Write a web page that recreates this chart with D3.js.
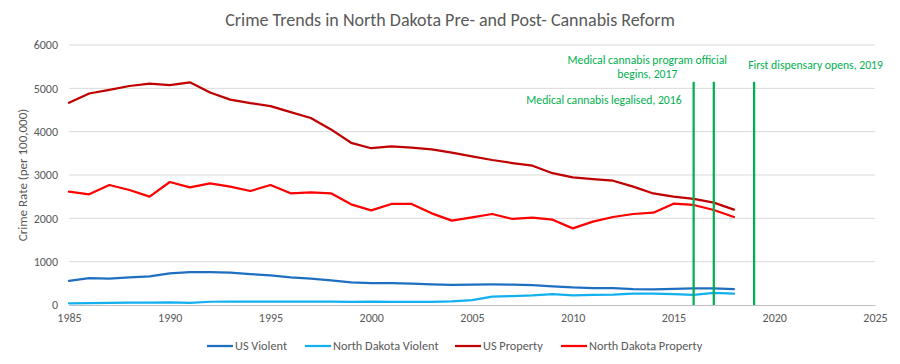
<!DOCTYPE html>
<html><head><meta charset="utf-8">
<script src="https://cdn.jsdelivr.net/npm/d3@7"></script>
<style>
html,body{margin:0;padding:0;background:#fff;}
svg text{font-family:Carlito, Lato, "Liberation Sans", sans-serif;}
</style></head>
<body><svg id="chart" width="900" height="364"></svg>
<script>
const years = d3.range(1985, 2019);
const usViolent = [556,620,610,637,663,732,758,758,747,714,685,637,611,568,523,507,504,494,476,463,469,474,472,458,432,404,387,387,369,362,373,386,383,369];
const ndViolent = [40,42,50,52,52,60,50,75,78,80,78,80,80,80,72,80,72,72,72,85,115,195,205,220,250,220,235,240,260,262,250,235,280,262];
const usProperty = [4666,4881,4963,5054,5107,5073,5140,4903,4740,4660,4591,4451,4316,4052,3743,3618,3658,3631,3591,3514,3432,3346,3276,3215,3041,2946,2905,2868,2733,2574,2500,2451,2362,2200];
const ndProperty = [2615,2554,2769,2654,2500,2838,2715,2808,2731,2631,2769,2577,2600,2577,2323,2185,2331,2331,2115,1946,2023,2100,1985,2015,1969,1769,1923,2031,2100,2131,2338,2308,2192,2031];
const seriesNames = ["US Violent","North Dakota Violent","US Property","North Dakota Property"];
const seriesColors = ["#1F6FC0","#12B0EE","#C00000","#FF0000"];
const xTicks = [1985,1990,1995,2000,2005,2010,2015,2020,2025];
const yTicks = [0,1000,2000,3000,4000,5000,6000];
const eventYears = [2016,2017,2019];
const eventTop = 5150;
const eventLabels = ["Medical cannabis legalised, 2016","Medical cannabis program official|begins, 2017","First dispensary opens, 2019"];
const titleText = "Crime Trends in North Dakota Pre- and Post- Cannabis Reform";
const yTitle = "Crime Rate (per 100,000)";

const svg = d3.select("#chart");
const m = {left:69, right:875, top:45, bottom:305};
const x = d3.scaleLinear().domain([1985,2025]).range([m.left, m.right]);
const y = d3.scaleLinear().domain([0,6000]).range([m.bottom, m.top]);
const grey = "#595959";

// gridlines
svg.append("g").selectAll("line").data(yTicks.filter(d=>d>0)).join("line")
  .attr("x1", m.left).attr("x2", m.right)
  .attr("y1", d=>y(d)).attr("y2", d=>y(d))
  .attr("stroke","#d9d9d9").attr("stroke-width",1);

// y axis
const yAxis = svg.append("g").attr("transform",`translate(${m.left},0)`)
  .call(d3.axisLeft(y).tickValues(yTicks).tickSize(0).tickPadding(11).tickFormat(d3.format("d")));
yAxis.select(".domain").remove();
yAxis.selectAll("text").attr("fill",grey).attr("font-size",12);

// x axis
const xAxis = svg.append("g").attr("transform",`translate(0,${m.bottom})`)
  .call(d3.axisBottom(x).tickValues(xTicks).tickSize(0).tickPadding(8).tickFormat(d3.format("d")));
xAxis.select(".domain").attr("stroke","#bfbfbf").attr("stroke-width",1.2);
xAxis.selectAll("text").attr("fill",grey).attr("font-size",12);

// series
const allSeries = [usViolent, ndViolent, usProperty, ndProperty];
const line = d3.line().x((d,i)=>x(years[i])).y(d=>y(d));
svg.append("g").selectAll("path").data(allSeries).join("path")
  .attr("d", d=>line(d)).attr("fill","none")
  .attr("stroke",(d,i)=>seriesColors[i]).attr("stroke-width",2.25)
  .attr("stroke-linejoin","round").attr("stroke-linecap","round");

// event lines
const green = "#00B050";
svg.append("g").selectAll("line").data(eventYears).join("line")
  .attr("x1",d=>x(d)).attr("x2",d=>x(d))
  .attr("y1",y(0)).attr("y2",y(eventTop))
  .attr("stroke",green).attr("stroke-width",2.25);

// event labels
const lblG = svg.append("g").attr("fill",green).attr("font-size",11.7);
lblG.append("text").attr("x", x(2016)-12).attr("y", y(4630)).attr("text-anchor","end").text(eventLabels[0]);
const l2 = eventLabels[1].split("|");
const t2 = lblG.append("text").attr("text-anchor","middle");
t2.append("tspan").attr("x", x(2013.7)).attr("y", y(5560)).text(l2[0]);
t2.append("tspan").attr("x", x(2013.7)).attr("y", y(5230)).text(l2[1]);
lblG.append("text").attr("x", x(2022.05)).attr("y", y(5450)).attr("text-anchor","middle").text(eventLabels[2]);

// title
svg.append("text").attr("x",450).attr("y",26).attr("text-anchor","middle")
  .attr("fill",grey).attr("font-size",18).text(titleText);

// y title
svg.append("text").attr("transform",`translate(27,${(m.top+m.bottom)/2}) rotate(-90)`)
  .attr("text-anchor","middle").attr("fill",grey).attr("font-size",13).text(yTitle);

// legend
const legX = [207, 305, 455, 561];
const leg = svg.append("g").attr("transform","translate(0,346)");
seriesNames.forEach((n,i)=>{
  leg.append("line").attr("x1",legX[i]).attr("x2",legX[i]+26).attr("y1",0).attr("y2",0)
    .attr("stroke",seriesColors[i]).attr("stroke-width",2.25);
  leg.append("text").attr("x",legX[i]+28).attr("y",4).attr("fill",grey).attr("font-size",12.3).text(n);
});
</script></body></html>
